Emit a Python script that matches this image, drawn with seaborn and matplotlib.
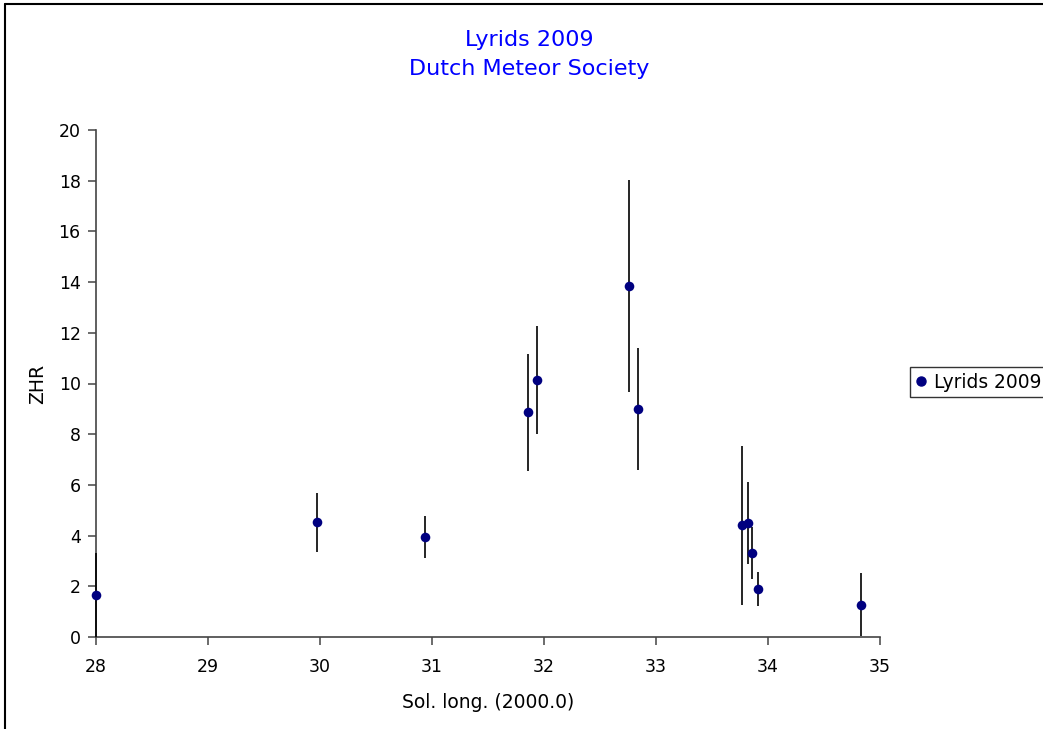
import matplotlib
matplotlib.use("Agg")
import matplotlib.pyplot as plt
import seaborn as sns
import pandas as pd
from matplotlib.lines import Line2D

sns.set_style("white")
plt.rcParams['font.family'] = ['DejaVu Sans']

# data
sol_long = [28.00, 29.97, 30.94, 31.86, 31.94, 32.76, 32.84, 33.77, 33.82, 33.86, 33.91, 34.83]
zhr = [1.66, 4.52, 3.95, 8.86, 10.12, 13.85, 8.99, 4.40, 4.50, 3.30, 1.88, 1.27]
zhr_err = [1.66, 1.15, 0.84, 2.30, 2.13, 4.18, 2.42, 3.12, 1.62, 1.02, 0.67, 1.25]
series_name = "Lyrids 2009"
x_ticks = [28, 29, 30, 31, 32, 33, 34, 35]
y_ticks = [0, 2, 4, 6, 8, 10, 12, 14, 16, 18, 20]

df = pd.DataFrame({"sol": sol_long, "zhr": zhr, "err": zhr_err})

W, H = 1043, 729
fig = plt.figure(figsize=(W / 100, H / 100), dpi=100)
ax = fig.add_axes([96 / W, 1 - 637 / H, (880 - 96) / W, (637 - 130) / H])

eb = ax.errorbar(df["sol"], df["zhr"], yerr=df["err"], fmt="none", ecolor="black",
                 elinewidth=1.2, capsize=0, zorder=4)
for c in eb.lines[2]:
    c.set_clip_on(False)
sns.scatterplot(data=df, x="sol", y="zhr", ax=ax, color="#000080", s=48,
                edgecolor="#000080", linewidth=0, zorder=5, legend=False, clip_on=False)

ax.set_xlim(28, 35)
ax.set_ylim(0, 20)
ax.set_xticks(x_ticks)
ax.set_yticks(y_ticks)
ax.tick_params(axis="both", direction="out", length=6, width=1.1, color="#444444",
               labelsize=12.5, labelcolor="black", bottom=True, left=True)
ax.tick_params(axis="x", pad=9)
ax.tick_params(axis="y", pad=5)
for s in ["top", "right"]:
    ax.spines[s].set_visible(False)
for s in ["left", "bottom"]:
    ax.spines[s].set_color("#444444")
    ax.spines[s].set_linewidth(1.2)

ax.set_xlabel("Sol. long. (2000.0)", fontsize=13.5, labelpad=12, color="black")
ax.set_ylabel("ZHR", fontsize=13.5, labelpad=8, color="black")

fig.text(529 / W, 1 - 40 / H, "Lyrids 2009", color="#0000FF", fontsize=16,
         ha="center", va="center")
fig.text(529 / W, 1 - 69 / H, "Dutch Meteor Society", color="#0000FF", fontsize=16,
         ha="center", va="center")

handle = Line2D([], [], marker="o", color="#000080", linestyle="none", markersize=6.5)
leg = fig.legend([handle], [series_name], loc="upper left",
                 bbox_to_anchor=(910 / W, 1 - 367 / H), borderaxespad=0,
                 fontsize=13.4, frameon=True, fancybox=False, handlelength=0.6,
                 handletextpad=0.4, borderpad=0.3)
leg.get_frame().set_edgecolor("black")
leg.get_frame().set_linewidth(1.0)
for t in leg.get_texts():
    t.set_color("black")

# outer chart border (cropped at right and bottom)
fig.add_artist(Line2D([5 / W, 5 / W], [0, 1 - 4 / H], color="black", lw=1.5))
fig.add_artist(Line2D([5 / W, 1], [1 - 4 / H, 1 - 4 / H], color="black", lw=1.5))

fig.savefig("out.png", dpi=100)
